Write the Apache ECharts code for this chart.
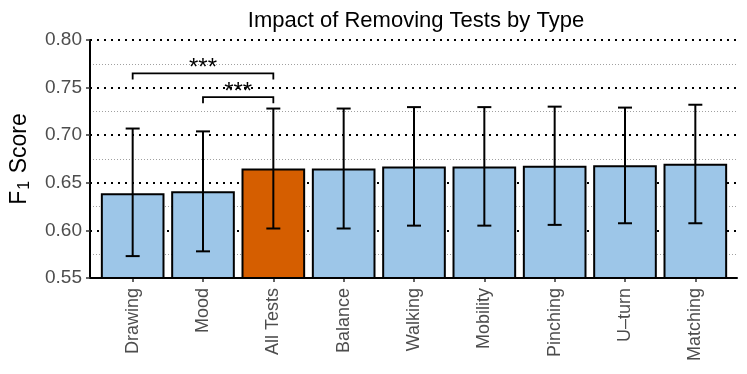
<!DOCTYPE html>
<html>
<head>
<meta charset="utf-8">
<script src="https://cdn.jsdelivr.net/npm/echarts@6/dist/echarts.min.js"></script>
<style>
  html, body { margin: 0; padding: 0; background: #fff; }
  #chart { width: 747px; height: 374px; }
</style>
</head>
<body>
<div id="chart"></div>
<script>
// Values
const categories = ['Drawing', 'Mood', 'All Tests', 'Balance', 'Walking', 'Mobility', 'Pinching', 'U\u2013turn', 'Matching'];
const meanF1 = [0.639, 0.641, 0.665, 0.665, 0.667, 0.667, 0.668, 0.6685, 0.670];
const lowerF1 = [0.573, 0.578, 0.602, 0.602, 0.605, 0.605, 0.6058, 0.6075, 0.6075];
const upperF1 = [0.707, 0.704, 0.728, 0.728, 0.7295, 0.7295, 0.730, 0.729, 0.732];
const highlightCategory = 'All Tests';
// significance brackets: [from index, to index, bracket level, tick end, label]
const brackets = [
    [0, 2, 0.765, 0.7585, '***'],
    [1, 2, 0.740, 0.7335, '***']
];
const yMin = 0.55, yMax = 0.80, yStep = 0.05;

const chart = echarts.init(document.getElementById('chart'));

const barData = meanF1.map((v, i) => ({
    value: v,
    itemStyle: { color: categories[i] === highlightCategory ? '#d55e00' : '#9dc6e8' }
}));

const errorData = categories.map((c, i) => [i, lowerF1[i], upperF1[i]]);

// vertical whisker with caps
function renderErrorBar(params, api) {
    const lo = api.coord([api.value(0), api.value(1)]);
    const hi = api.coord([api.value(0), api.value(2)]);
    const cap = 7;
    const style = { stroke: '#000', lineWidth: 2 };
    return {
        type: 'group',
        children: [
            { type: 'line', shape: { x1: lo[0], y1: lo[1], x2: hi[0], y2: hi[1] }, style: style },
            { type: 'line', shape: { x1: lo[0] - cap, y1: lo[1], x2: lo[0] + cap, y2: lo[1] }, style: style },
            { type: 'line', shape: { x1: hi[0] - cap, y1: hi[1], x2: hi[0] + cap, y2: hi[1] }, style: style }
        ]
    };
}

// significance bracket with stars
function renderBracket(params, api) {
    const b = brackets[params.dataIndex];
    const a = api.coord([b[0], b[2]]);
    const c = api.coord([b[1], b[2]]);
    const aEnd = api.coord([b[0], b[3]]);
    return {
        type: 'group',
        children: [
            {
                type: 'polyline',
                shape: { points: [[a[0], aEnd[1]], a, c, [c[0], aEnd[1]]] },
                style: { stroke: '#000', lineWidth: 1.8, fill: null }
            },
            {
                type: 'text',
                style: {
                    text: b[4], x: (a[0] + c[0]) / 2, y: a[1] + 7,
                    align: 'center', verticalAlign: 'bottom',
                    font: '24px "Liberation Sans", Arial, sans-serif', fill: '#000'
                }
            }
        ]
    };
}

const option = {
    animation: false,
    title: {
        text: 'Impact of Removing Tests by Type',
        left: 411, top: 5, textAlign: 'center',
        textStyle: { fontFamily: 'Liberation Sans', fontWeight: 'normal', fontSize: 22, color: '#000' }
    },
    grid: [
        // frame: axis lines, y labels and grid lines
        { left: 90, right: 10, top: 40, bottom: 96 },
        // bars, inset like the reference
        { left: 97.5, right: 16.5, top: 40, bottom: 96 }
    ],
    xAxis: [
        {
            gridIndex: 0, type: 'value', min: 0, max: 1,
            axisLine: { show: true, lineStyle: { color: '#000', width: 2 } },
            axisTick: { show: false }, axisLabel: { show: false }, splitLine: { show: false }
        },
        {
            gridIndex: 1, type: 'category', data: categories,
            axisLine: { show: false },
            axisTick: { show: true, alignWithLabel: true, length: 4, lineStyle: { color: '#333', width: 1.5 } },
            axisLabel: { rotate: 90, margin: 10, fontFamily: 'Liberation Sans', fontSize: 18, color: '#4d4d4d' },
            splitLine: { show: false }
        }
    ],
    yAxis: [
        {
            gridIndex: 0, type: 'value',
            min: yMin, max: yMax, interval: yStep,
            name: '{a|F}{sub|1}{a| Score}',
            nameLocation: 'middle',
            nameRotate: 90,
            nameGap: 57,
            nameTextStyle: {
                rich: {
                    a: { fontFamily: 'Liberation Sans', fontSize: 23, color: '#000' },
                    sub: { fontFamily: 'Liberation Sans', fontSize: 16, color: '#000', verticalAlign: 'bottom', padding: [10, 1, 0, 1] }
                }
            },
            axisLine: { show: true, lineStyle: { color: '#000', width: 2 } },
            axisTick: { show: true, length: 4, lineStyle: { color: '#333', width: 1.5 } },
            axisLabel: {
                fontFamily: 'Liberation Sans', fontSize: 19, color: '#4d4d4d', margin: 8,
                formatter: v => v.toFixed(2)
            },
            splitLine: { show: true, lineStyle: { color: '#000', width: 2, type: [2, 5] } },
            minorTick: { show: false, splitNumber: 2 },
            minorSplitLine: { show: true, lineStyle: { color: '#888', width: 0.8, type: [1, 2] } }
        },
        {
            gridIndex: 1, type: 'value',
            min: yMin, max: yMax, interval: yStep,
            show: false
        }
    ],
    series: [
        {
            type: 'bar',
            xAxisIndex: 1, yAxisIndex: 1,
            data: barData,
            barCategoryGap: '9.5%',
            itemStyle: { borderColor: '#000', borderWidth: 2 },
            z: 2
        },
        {
            type: 'custom',
            xAxisIndex: 1, yAxisIndex: 1,
            data: errorData,
            renderItem: renderErrorBar,
            z: 3
        },
        {
            type: 'custom',
            xAxisIndex: 1, yAxisIndex: 1,
            data: brackets.map(b => [b[0], b[2]]),
            renderItem: renderBracket,
            z: 3
        }
    ]
};

chart.setOption(option);
</script>
</body>
</html>
